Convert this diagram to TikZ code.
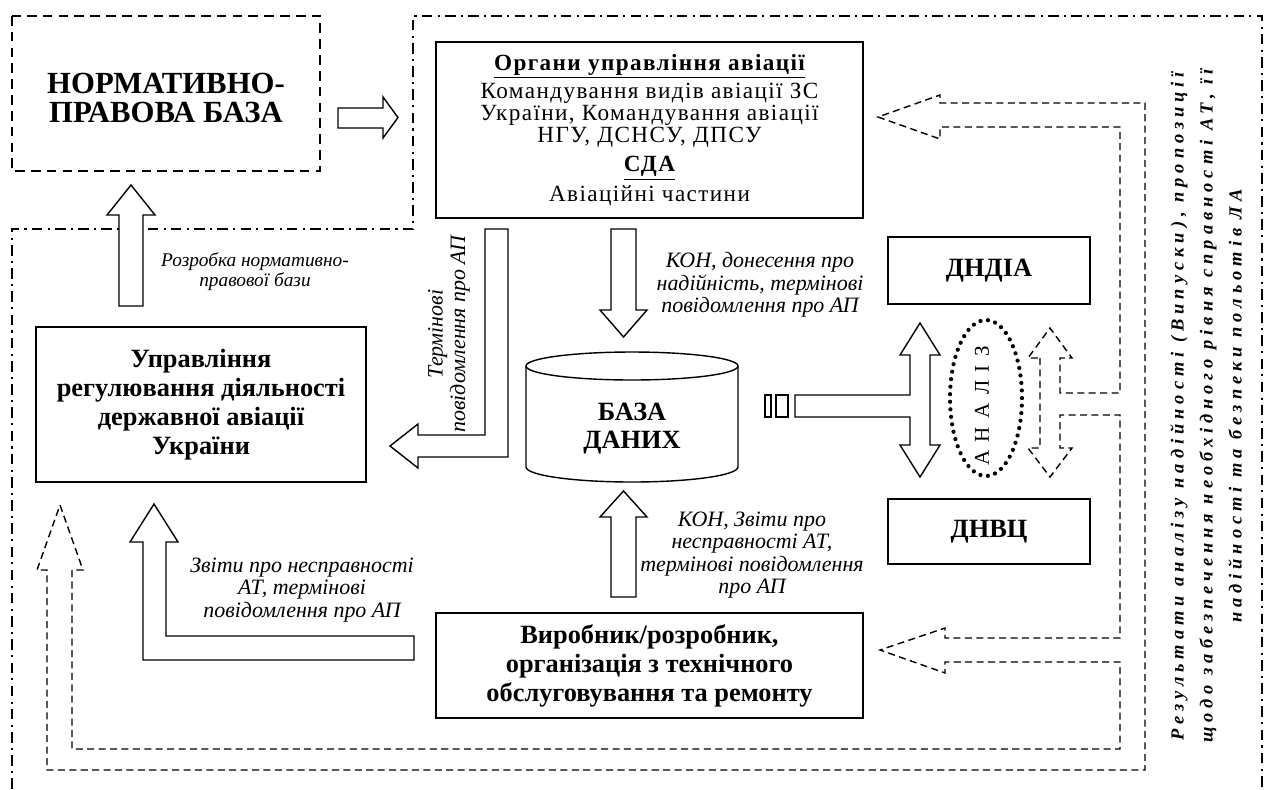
\documentclass[tikz,border=0pt]{standalone}
\usepackage{fontspec}
\setmainfont{Liberation Serif}
\newfontfamily\spacedfont[LetterSpace=27]{Liberation Serif}
\newfontfamily\analizfont[LetterSpace=40]{Liberation Serif}
\newfontfamily\orgfont[LetterSpace=6]{Liberation Serif}
\usetikzlibrary{positioning}

\tikzset{
  box/.style={draw, line width=0.8pt, align=center, font=\fontsize{15}{16.5}\selectfont\bfseries},
  lbl/.style={align=center, font=\fontsize{12.5}{12.8}\selectfont\itshape},
  hollow/.style={draw, line width=0.8pt, fill=white},
  dashline/.style={line width=0.8pt, dash pattern=on 4pt off 2.5pt},
  frame/.style={line width=1.3pt, dash pattern=on 6pt off 3pt on 1.2pt off 3pt}
}

\begin{document}
\begin{tikzpicture}[x=0.02cm,y=-0.02cm]
\useasboundingbox (0,0) rectangle (1268,789);

\draw[frame] (12,789) -- (12,229) -- (413,229) -- (413,16) -- (1262,16) -- (1262,789);

\draw[line width=0.8pt, dash pattern=on 5.5pt off 3.5pt] (12,16) rectangle (320,171);
\node[align=center, font=\fontsize{17.5}{16.5}\selectfont\bfseries] (npb) at (166,98) {НОРМАТИВНО-\\ПРАВОВА БАЗА};
\node[box, minimum width=8.54cm, minimum height=3.52cm, font=\fontsize{13.2}{12.6}\selectfont\orgfont] (org) at (649.5,130)
  {\textbf{\underline{Органи управління авіації}}\\[1.5pt]Командування видів авіації ЗС\\України, Командування авіації\\НГУ, ДСНСУ, ДПСУ\\[4pt]\textbf{\underline{СДА}}\\[2pt]Авіаційні частини};
\node[box, minimum width=6.6cm, minimum height=3.1cm] (upr) at (201,404.5)
  {Управління\\регулювання діяльності\\державної авіації\\України};
\node[box, minimum width=8.54cm, minimum height=2.1cm] (vyr) at (649.5,665.5)
  {Виробник/розробник,\\організація з технічного\\обслуговування та ремонту};
\node[box, minimum width=4.04cm, minimum height=1.34cm] (dndia) at (989,270.5) {ДНДІА};
\node[box, minimum width=4.04cm, minimum height=1.3cm] (dnvc) at (989,531.5) {ДНВЦ};

% база даних
\draw[line width=0.8pt, fill=white] (526,366) -- (526,467) arc[start angle=180, end angle=360, x radius=2.12cm, y radius=0.3cm] -- (738,366);
\draw[line width=0.8pt] (632,366) ellipse [x radius=2.12cm, y radius=0.28cm];
\node[align=center, font=\fontsize{15}{16}\selectfont\bfseries] (db) at (632,429) {БАЗА\\ДАНИХ};

% зворотний зв'язок
\draw[dashline] (1040,358) -- (1040,448) -- (1028,448) -- (1050,477) -- (1072,448) -- (1060,448) -- (1060,415)
  -- (1120,415) -- (1120,638) -- (945,638) -- (945,628) -- (880,650) -- (945,673) -- (945,662) -- (1120,662)
  -- (1120,749) -- (72,749) -- (72,570) -- (83,570) -- (60,505) -- (37,570) -- (47,570) -- (47,770)
  -- (1145,770) -- (1145,103) -- (940,103) -- (940,95) -- (878,117) -- (940,139) -- (940,127) -- (1120,127)
  -- (1120,393) -- (1060,393) -- (1060,358) -- (1072,358) -- (1050,328) -- (1028,358) -- cycle;

\draw[hollow] (338,108) -- (383,108) -- (383,97) -- (398,117.5) -- (383,138) -- (383,128) -- (338,128) -- cycle;
\draw[hollow] (119,306) -- (119,215) -- (107,215) -- (131,185) -- (155,215) -- (143,215) -- (143,306) -- cycle;
\draw[hollow] (611,229) -- (611,310) -- (600,310) -- (623.5,337) -- (647,310) -- (636,310) -- (636,229) -- cycle;
\draw[hollow] (611,597) -- (611,517) -- (600,517) -- (623.5,491) -- (647,517) -- (636,517) -- (636,597) -- cycle;
\draw[hollow] (485,229) -- (508,229) -- (508,457) -- (418,457) -- (418,468) -- (390,446) -- (418,424) -- (418,435) -- (485,435) -- cycle;
\draw[hollow] (414,636) -- (414,660) -- (143,660) -- (143,542) -- (130,542) -- (154,504) -- (178,542) -- (166,542) -- (166,636) -- cycle;
\draw[hollow] (920,323) -- (940,355) -- (930,355) -- (930,445) -- (940,445) -- (920,477) -- (900,445) -- (910,445)
  -- (910,417) -- (795,417) -- (795,395) -- (910,395) -- (910,355) -- (900,355) -- cycle;
\draw[line width=0.8pt] (765,395) rectangle (771,417);
\draw[line width=0.8pt] (776,395) rectangle (788,417);

\draw[line width=2.4pt, line cap=round, dash pattern=on 0pt off 4.3pt] (986,398) ellipse [x radius=0.72cm, y radius=1.56cm];
\node[rotate=90, font=\fontsize{12}{12}\selectfont\analizfont] (analiz) at (982,406) {АНАЛІЗ};

\node[lbl, font=\fontsize{11}{11.5}\selectfont\itshape] (lrozr) at (255,272) {Розробка нормативно-\\правової бази};
\node[lbl, rotate=90] (lterm) at (449,334) {Термінові\\повідомлення про АП};
\node[lbl] (lkon) at (760,285) {КОН, донесення про\\надійність, термінові\\повідомлення про АП};
\node[lbl] (lkonzv) at (752,555) {КОН, Звіти про\\несправності АТ,\\термінові повідомлення\\про АП};
\node[lbl] (lzvit) at (302,590) {Звіти про несправності\\АТ, термінові\\повідомлення про АП};
\node[rotate=90, align=center, font=\fontsize{10.5}{16.5}\selectfont\spacedfont\bfseries\itshape] (lres) at (1206,406)
  {Результати аналізу надійності (Випуски), пропозиції\\щодо забезпечення необхідного рівня справності АТ, її\\надійності та безпеки польотів ЛА};
\end{tikzpicture}
\end{document}
